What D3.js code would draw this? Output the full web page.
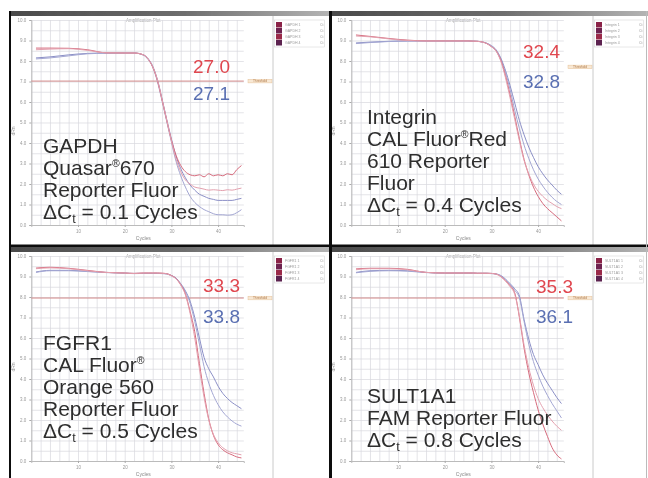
<!DOCTYPE html>
<html lang="en">
<head>
<meta charset="utf-8">
<title>Ct shift by reporter dye</title>
<style>
  body { margin:0; background:#fff; font-family:"Liberation Sans", Arial, sans-serif; }
  svg { display:block; }
</style>
<script src="https://cdn.jsdelivr.net/npm/d3@7/dist/d3.min.js"></script>
</head>
<body>
<script>
// cycles sampled off the plots (denser through the drop)
var cycles = [1,4,8,12,16,20,22,24,25,26,27,28,29,30,31,32,33,34,35,36,37,38,39,40,41,42,43,44,45];

// curve values per panel, two red and two blue wells each
var gapdhRed1  = [8.63,8.63,8.62,8.55,8.40,8.39,8.39,8.30,8.10,7.70,7.05,6.10,5.10,4.15,3.40,2.90,2.60,2.45,2.40,2.45,2.35,2.50,2.40,2.45,2.40,2.50,2.45,2.70,2.90];
var gapdhRed2  = [8.55,8.58,8.60,8.52,8.40,8.39,8.39,8.30,8.10,7.72,7.08,6.12,5.12,4.10,3.20,2.60,2.20,2.00,1.85,1.80,1.75,1.70,1.72,1.70,1.68,1.72,1.70,1.75,1.80];
var gapdhBlue1 = [8.15,8.20,8.30,8.37,8.39,8.39,8.39,8.30,8.12,7.75,7.10,6.15,5.15,4.20,3.35,2.75,2.30,1.95,1.70,1.50,1.40,1.30,1.25,1.20,1.20,1.20,1.20,1.25,1.30];
var gapdhBlue2 = [8.10,8.15,8.25,8.35,8.38,8.39,8.39,8.28,8.08,7.70,7.00,6.05,5.05,4.05,3.10,2.40,1.85,1.40,1.10,0.90,0.75,0.65,0.55,0.50,0.50,0.48,0.50,0.60,0.75];

var itgRed1  = [9.27,9.20,9.10,9.02,8.98,8.98,8.98,8.98,8.98,8.97,8.96,8.93,8.85,8.70,8.50,8.05,7.30,6.35,5.30,4.20,3.20,2.45,1.85,1.40,1.05,0.80,0.60,0.40,0.20];
var itgRed2  = [9.22,9.18,9.08,9.00,8.98,8.98,8.98,8.98,8.98,8.97,8.96,8.93,8.85,8.70,8.48,8.00,7.20,6.20,5.15,4.10,3.15,2.50,2.00,1.65,1.40,1.20,1.05,0.90,0.80];
var itgBlue1 = [8.88,8.92,8.96,8.98,8.98,8.98,8.98,8.98,8.98,8.97,8.96,8.93,8.87,8.75,8.55,8.15,7.55,6.80,5.95,5.10,4.40,3.80,3.30,2.85,2.50,2.20,1.95,1.70,1.50];
var itgBlue2 = [8.85,8.90,8.95,8.97,8.98,8.98,8.98,8.98,8.98,8.97,8.96,8.93,8.86,8.72,8.50,8.08,7.45,6.60,5.60,4.70,3.90,3.25,2.70,2.25,1.90,1.60,1.35,1.15,1.00];

var fgfrRed1  = [9.41,9.45,9.40,9.30,9.20,9.17,9.15,9.17,9.17,9.17,9.17,9.16,9.14,9.05,8.90,8.60,8.15,7.30,6.30,4.75,3.30,2.05,1.25,0.80,0.55,0.40,0.30,0.20,0.15];
var fgfrRed2  = [9.38,9.42,9.38,9.28,9.20,9.17,9.15,9.17,9.17,9.17,9.17,9.16,9.13,9.03,8.88,8.58,8.10,7.20,6.00,4.50,3.10,2.00,1.30,0.90,0.65,0.50,0.40,0.35,0.30];
var fgfrBlue1 = [9.22,9.30,9.30,9.25,9.20,9.17,9.15,9.16,9.16,9.16,9.16,9.15,9.13,9.05,8.92,8.65,8.30,7.80,7.00,6.00,5.05,4.50,4.10,3.65,3.30,3.05,2.85,2.70,2.55];
var fgfrBlue2 = [9.20,9.28,9.28,9.24,9.19,9.16,9.14,9.15,9.15,9.15,9.15,9.14,9.12,9.03,8.90,8.62,8.25,7.70,6.80,5.70,4.60,3.80,3.20,2.75,2.40,2.15,1.95,1.80,1.70];

var sultRed1  = [9.37,9.40,9.40,9.35,9.20,9.17,9.17,9.17,9.17,9.17,9.16,9.16,9.16,9.15,9.12,9.00,8.80,8.55,8.20,7.00,5.50,4.30,3.35,2.50,1.80,1.20,0.65,0.30,0.10];
var sultRed2  = [9.33,9.38,9.38,9.33,9.20,9.17,9.17,9.17,9.17,9.17,9.16,9.16,9.16,9.15,9.12,9.00,8.78,8.50,8.12,7.05,5.65,4.55,3.70,3.05,2.60,2.25,1.95,1.70,1.50];
var sultBlue1 = [9.20,9.28,9.30,9.28,9.20,9.17,9.17,9.17,9.17,9.17,9.16,9.16,9.16,9.15,9.13,9.05,8.88,8.65,8.40,8.05,6.90,5.95,5.20,4.70,4.20,3.80,3.45,3.10,2.80];
var sultBlue2 = [9.18,9.25,9.28,9.26,9.19,9.16,9.16,9.16,9.16,9.16,9.15,9.15,9.15,9.14,9.12,9.03,8.85,8.60,8.32,7.95,6.80,5.70,4.85,4.20,3.65,3.20,2.80,2.45,2.10];

var genes = ["GAPDH", "Integrin", "FGFR1", "SULT1A1"];
var dyeLines = [
  ["Quasar\u00ae670", "Reporter Fluor"],
  ["CAL Fluor\u00aeRed", "610 Reporter", "Fluor"],
  ["CAL Fluor\u00ae", "Orange 560", "Reporter Fluor"],
  ["FAM Reporter Fluor"]
];
var ctRed  = [27.0, 32.4, 33.3, 35.3];
var ctBlue = [27.1, 32.8, 33.8, 36.1];
var thresholds = [7.02, 7.71, 7.95, 7.95];
var xTicks = [10, 20, 30, 40];

var redSets  = [[gapdhRed1, gapdhRed2], [itgRed1, itgRed2], [fgfrRed1, fgfrRed2], [sultRed1, sultRed2]];
var blueSets = [[gapdhBlue1, gapdhBlue2], [itgBlue1, itgBlue2], [fgfrBlue1, fgfrBlue2], [sultBlue1, sultBlue2]];

// layout (panel relative)
var origins   = [[10,11],[330,11],[10,247],[330,247]];
var panelW    = [319, 318, 319, 318];
var textX     = [33, 37, 33, 37];
var textLast  = [208, 201, 191, 200];
var ctRight   = [220, 230, 230, 243];
var ctRedY    = [62, 47, 45, 46];
var ctBlueY   = [89, 77, 76, 76];
var showThrLine = [true, false, true, true];

var W = 648, H = 478;
var plotTop = 9, plotBottom = 214;

var svg = d3.select("body").append("svg").attr("width", W).attr("height", H);
var defs = svg.append("defs");
defs.append("filter").attr("id", "soft").append("feGaussianBlur").attr("stdDeviation", 0.45);
var grad = defs.append("linearGradient").attr("id", "hdr");
grad.append("stop").attr("offset", "0%").attr("stop-color", "#4a4a4a");
grad.append("stop").attr("offset", "55%").attr("stop-color", "#6e6e6e");
grad.append("stop").attr("offset", "100%").attr("stop-color", "#b4b4b4");

var root = svg.append("g").attr("filter", "url(#soft)");
root.append("rect").attr("width", W).attr("height", H).attr("fill", "#fff");

var x = d3.scaleLinear().domain([0, 45.5]).range([21.3, 21.3 + 45.5 * 4.67]);
var y = d3.scaleLinear().domain([0, 10]).range([plotBottom, plotTop]);
var line = d3.line().x(function(d){ return x(d[0]); }).y(function(d){ return y(d[1]); }).curve(d3.curveMonotoneX);

function addRich(g, str, px, py) {
  var t = g.append("text").attr("x", px).attr("y", py);
  var parts = str.split("\u00ae");
  parts.forEach(function(p, i) {
    if (i > 0) t.append("tspan").attr("font-size", "0.5em").attr("dy", -8).text("\u00ae");
    t.append("tspan").attr("dy", i > 0 ? 8 : 0).text(p);
  });
  return t;
}

for (var i = 0; i < 4; i++) {
  var ox = origins[i][0], oy = origins[i][1], pw = panelW[i];
  var g = root.append("g").attr("transform", "translate(" + ox + "," + oy + ")");

  g.append("rect").attr("width", pw).attr("height", 5).attr("fill", "url(#hdr)");
  g.append("text").attr("x", x(24)).attr("y", 11).attr("text-anchor", "middle")
    .attr("font-size", 4.5).attr("fill", "#aaa").text("Amplification Plot");

  // grid
  var gx = g.append("g").attr("transform", "translate(0," + plotBottom + ")")
    .call(d3.axisBottom(x).tickValues(d3.range(0, 46, 2)).tickSize(-(plotBottom - plotTop)).tickFormat(""));
  var gy = g.append("g").attr("transform", "translate(" + x(0) + ",0)")
    .call(d3.axisLeft(y).tickValues(d3.range(0, 10.01, 0.5)).tickSize(-(x(45.5) - x(0))).tickFormat(""));
  [gx, gy].forEach(function(a) {
    a.select(".domain").remove();
    a.selectAll("line").attr("stroke", "#d9d9de").attr("stroke-width", 0.7);
  });

  // tiny axis labels
  var ax = g.append("g").attr("transform", "translate(0," + plotBottom + ")")
    .call(d3.axisBottom(x).tickValues(xTicks).tickSize(2));
  var ay = g.append("g").attr("transform", "translate(" + x(0) + ",0)")
    .call(d3.axisLeft(y).tickValues(d3.range(0, 10.01, 1)).tickSize(2).tickFormat(d3.format(".1f")));
  [ax, ay].forEach(function(a) {
    a.select(".domain").attr("stroke", "#bbb");
    a.selectAll("line").attr("stroke", "#aaa");
    a.selectAll("text").attr("font-size", 4.5).attr("fill", "#999").attr("font-family", "Liberation Sans");
  });
  g.append("text").attr("x", x(24)).attr("y", 229).attr("text-anchor", "middle")
    .attr("font-size", 5).attr("fill", "#888").text("Cycles");
  g.append("text").attr("transform", "translate(5,120) rotate(-90)").attr("text-anchor", "middle")
    .attr("font-size", 5).attr("fill", "#999").text("dRn");

  // threshold
  if (showThrLine[i]) {
    g.append("line").attr("x1", x(0)).attr("x2", x(45.5))
      .attr("y1", y(thresholds[i])).attr("y2", y(thresholds[i]))
      .attr("stroke", "#d38a8a").attr("stroke-width", 1);
  }
  g.append("rect").attr("x", 238).attr("y", y(thresholds[i]) - 1.8).attr("width", 24).attr("height", 3.6)
    .attr("fill", "#f8e8d4").attr("stroke", "#e6c29a").attr("stroke-width", 0.5);
  g.append("text").attr("x", 250).attr("y", y(thresholds[i]) + 1.2).attr("text-anchor", "middle")
    .attr("font-size", 3.2).attr("fill", "#b07a4a").text("Threshold");

  // curves
  blueSets[i].forEach(function(s, k) {
    g.append("path").datum(d3.zip(cycles, s)).attr("d", line)
      .attr("fill", "none").attr("stroke", k ? "#a3a6d2" : "#8b8fc6").attr("stroke-width", 1);
  });
  redSets[i].forEach(function(s, k) {
    g.append("path").datum(d3.zip(cycles, s)).attr("d", line)
      .attr("fill", "none").attr("stroke", k ? "#e3a0ae" : "#d66a7c").attr("stroke-width", 1);
  });

  // legend side
  g.append("line").attr("x1", 263).attr("x2", 263).attr("y1", 5).attr("y2", 240)
    .attr("stroke", "#bdbdbd").attr("stroke-width", 0.8);
  g.append("rect").attr("x", 264.5).attr("y", 9).attr("width", pw - 269).attr("height", 27)
    .attr("fill", "#fff").attr("stroke", "#d0d0d0").attr("stroke-width", 0.5);
  ["#8a2446", "#6e2450", "#9a2a48", "#5c2050"].forEach(function(c, k) {
    g.append("rect").attr("x", 266).attr("y", 11 + k * 6).attr("width", 6).attr("height", 5.5).attr("fill", c);
    g.append("text").attr("x", 275).attr("y", 15 + k * 6).attr("font-size", 3.5).attr("fill", "#999")
      .text(genes[i] + " " + (k + 1));
    g.append("text").attr("x", pw - 9).attr("y", 15 + k * 6).attr("font-size", 3.5).attr("fill", "#999")
      .text("Ct");
  });

  // big label
  var lines = [genes[i]].concat(dyeLines[i]);
  var tg = g.append("g").attr("font-size", 21).attr("fill", "#2e2e2e");
  var first = textLast[i] - lines.length * 22;
  lines.forEach(function(s, k) { addRich(tg, s, textX[i], first + k * 22); });
  var dt = tg.append("text").attr("x", textX[i]).attr("y", textLast[i]);
  dt.append("tspan").text("\u0394C");
  dt.append("tspan").attr("font-size", "0.6em").attr("dy", 4).text("t");
  dt.append("tspan").attr("dy", -4).text(" = " + d3.format(".1f")(ctBlue[i] - ctRed[i]) + " Cycles");

  g.append("text").attr("x", ctRight[i]).attr("y", ctRedY[i]).attr("text-anchor", "end")
    .attr("font-size", 19).attr("fill", "#e0474f").text(d3.format(".1f")(ctRed[i]));
  g.append("text").attr("x", ctRight[i]).attr("y", ctBlueY[i]).attr("text-anchor", "end")
    .attr("font-size", 19).attr("fill", "#5a6fb2").text(d3.format(".1f")(ctBlue[i]));
}

// frame lines
root.append("rect").attr("x", 9).attr("y", 11).attr("width", 2).attr("height", H - 11).attr("fill", "#111");
root.append("rect").attr("x", 329).attr("y", 11).attr("width", 3).attr("height", H - 11).attr("fill", "#111");
root.append("rect").attr("x", 9).attr("y", 244.5).attr("width", W - 9).attr("height", 2.5).attr("fill", "#111");
root.append("line").attr("x1", 646.5).attr("x2", 646.5).attr("y1", 11).attr("y2", H)
  .attr("stroke", "#bbb").attr("stroke-width", 1);
</script>
</body>
</html>
